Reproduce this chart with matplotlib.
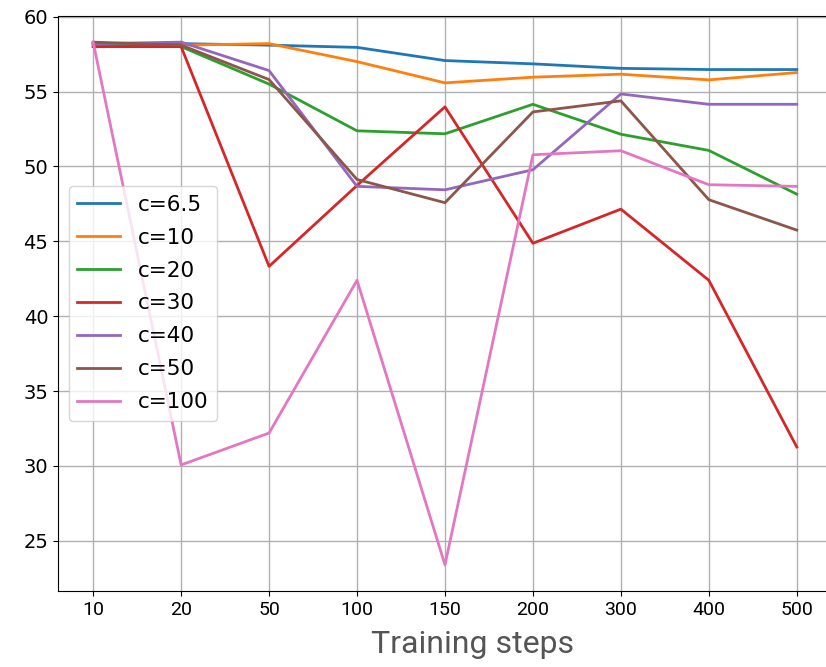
import matplotlib
matplotlib.use("Agg")
import matplotlib.pyplot as plt

steps = ["10", "20", "50", "100", "150", "200", "300", "400", "500"]

c_6_5 = [58.2, 58.2, 58.1, 57.95, 57.07, 56.85, 56.55, 56.47, 56.47]
c_10 = [58.0, 58.1, 58.2, 57.0, 55.58, 55.96, 56.16, 55.78, 56.27]
c_20 = [58.2, 58.0, 55.5, 52.38, 52.18, 54.15, 52.15, 51.07, 48.15]
c_30 = [58.0, 58.0, 43.33, 48.73, 53.98, 44.87, 47.15, 42.4, 31.27]
c_40 = [58.2, 58.3, 56.4, 48.67, 48.44, 49.78, 54.84, 54.15, 54.15]
c_50 = [58.3, 58.1, 55.8, 49.13, 47.58, 53.64, 54.38, 47.78, 45.75]
c_100 = [58.3, 30.07, 32.2, 42.4, 23.4, 50.78, 51.05, 48.78, 48.67]

series = [("c=6.5", c_6_5), ("c=10", c_10), ("c=20", c_20), ("c=30", c_30),
          ("c=40", c_40), ("c=50", c_50), ("c=100", c_100)]

plt.rcParams["font.size"] = 14
fig = plt.figure(figsize=(8.26, 6.67), dpi=100)
ax = fig.add_axes([0.0702, 0.114, 0.937, 0.862])

x = list(range(len(steps)))
for label, vals in series:
    ax.plot(x, vals, linewidth=2, label=label)

ax.grid(True, color="#b0b0b0", linewidth=1)
ax.set_xticks(x)
ax.set_xticklabels(steps, fontfamily="Roboto", fontsize=14)
ax.set_xlabel("Training steps", fontfamily="Roboto", fontsize=23, color="#555555")
ax.xaxis.set_label_coords(0.536, -0.068)
ax.set_yticks([25, 30, 35, 40, 45, 50, 55, 60])
ax.legend(loc="center left", fontsize=15.5, labelspacing=0.6)

fig.savefig("out.png", dpi=100)
